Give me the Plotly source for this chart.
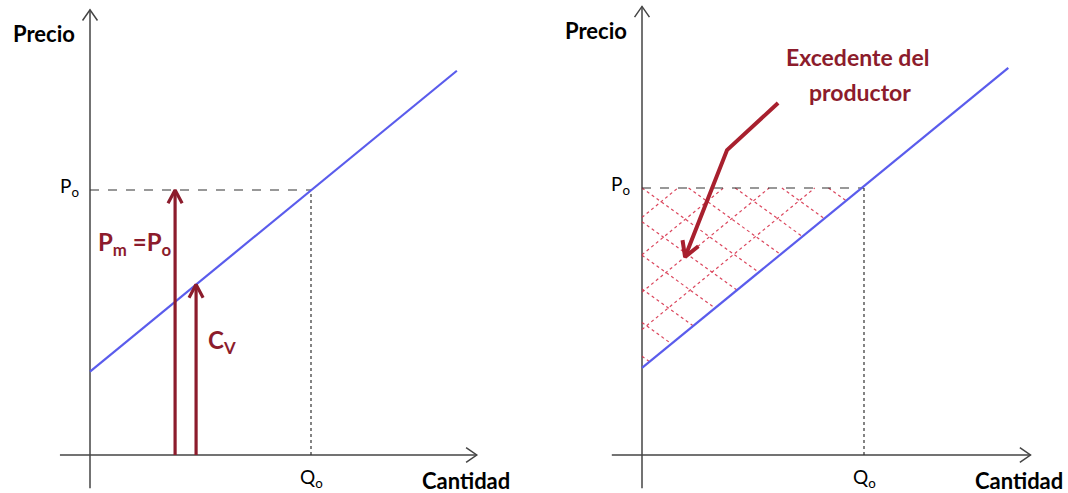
import numpy as np
import plotly.graph_objects as go

# ---------------- data (conceptual units) ----------------
P0 = 10.0          # equilibrium price
Q0 = 10.0          # equilibrium quantity
supply_left_q = [0.0, 16.6]
supply_left_p = [3.15, 14.5]
supply_right_q = [0.0, 16.5]
supply_right_p = [3.26, 14.5]

# left panel vertical arrows: Pm = Po and Cv
arrow_q = [3.85, 4.8]
arrow_top = [P0, 3.15 + (14.5 - 3.15) / 16.6 * 4.8]

# right panel pointer arrow (start, bend, tip)
pointer_q = [6.13, 3.83, 1.94]
pointer_p = [13.18, 11.42, 7.42]

# hatch families (right panel)
hatch_a_offsets = [4.7, 6.1, 7.5, 8.9]                 # parallel to supply
hatch_b_offsets = [3.7, 4.96, 6.22, 7.48, 8.74, 10.0, 11.26, 12.52, 13.78, 15.04]
hatch_b_slope = -0.6

# axis extents
x_axis_ext = [-1.36, 17.5]
y_axis_ext = [-1.25, 16.8]

# ---------------- styling ----------------
AX_COL = "#444444"
BLUE = "#5a5cec"
DARKRED = "#8c1c2c"
PTR_RED = "#a8202e"
HATCH = "rgba(215,50,75,0.9)"
FONT = "Lato"

# pixel scales (px per unit) per panel
UX = {"L": 22.1, "R": 22.2}
UY = {"L": 26.5, "R": 26.7}

fig = go.Figure()


def line(xs, ys, color, width, panel, dash="solid"):
    fig.add_trace(go.Scatter(
        x=xs, y=ys, mode="lines",
        line=dict(color=color, width=width, dash=dash),
        xaxis="x" if panel == "L" else "x2",
        yaxis="y" if panel == "L" else "y2",
        hoverinfo="skip", showlegend=False))


def chevron(tip, prev, panel, length, half_angle_deg):
    ux, uy = UX[panel], UY[panel]
    tx, ty = tip[0] * ux, tip[1] * uy
    px, py = prev[0] * ux, prev[1] * uy
    d = np.array([tx - px, ty - py])
    d = d / np.linalg.norm(d)
    back = -d
    xs, ys = [], []
    for sgn in (1, -1):
        a = np.deg2rad(half_angle_deg) * sgn
        rot = np.array([[np.cos(a), -np.sin(a)], [np.sin(a), np.cos(a)]])
        v = rot @ back * length
        xs.append((tx + v[0]) / ux)
        ys.append((ty + v[1]) / uy)
    return [xs[0], tip[0], xs[1]], [ys[0], tip[1], ys[1]]


def axes(panel):
    line(x_axis_ext, [0, 0], AX_COL, 1.5, panel)
    line([0, 0], y_axis_ext, AX_COL, 1.5, panel)
    cx, cy = chevron((x_axis_ext[1], 0), (0, 0), panel, 13, 35)
    line(cx, cy, AX_COL, 1.5, panel)
    cx, cy = chevron((0, y_axis_ext[1]), (0, 0), panel, 13, 35)
    line(cx, cy, AX_COL, 1.5, panel)


# ---------------- left panel ----------------
axes("L")
line([0, Q0], [P0, P0], "#333333", 1.2, "L", dash="dash")
line([Q0, Q0], [0, P0], "#333333", 1.2, "L", dash="dot")
line(supply_left_q, supply_left_p, BLUE, 2.2, "L")
for q, top in zip(arrow_q, arrow_top):
    line([q, q], [0, top], DARKRED, 3.2, "L")
    cx, cy = chevron((q, top), (q, 0), "L", 15, 28)
    line(cx, cy, DARKRED, 3.2, "L")

# ---------------- right panel ----------------
axes("R")
b_int = supply_right_p[0]
s_slope = (supply_right_p[1] - supply_right_p[0]) / (supply_right_q[1] - supply_right_q[0])


def clip(c, m):
    cons = [(1.0, 0.0), (-m, P0 - c), (m - s_slope, c - b_int)]
    lo, hi = -1e9, 1e9
    for a, k in cons:
        if abs(a) < 1e-12:
            if k < 0:
                return None
        elif a > 0:
            lo = max(lo, -k / a)
        else:
            hi = min(hi, -k / a)
    if hi - lo < 1e-6:
        return None
    return lo, hi


hx, hy = [], []
for c in hatch_a_offsets:
    r = clip(c, s_slope)
    if r:
        hx += [r[0], r[1], None]
        hy += [c + s_slope * r[0], c + s_slope * r[1], None]
for d in hatch_b_offsets:
    r = clip(d, hatch_b_slope)
    if r:
        hx += [r[0], r[1], None]
        hy += [d + hatch_b_slope * r[0], d + hatch_b_slope * r[1], None]
fig.add_trace(go.Scatter(x=hx, y=hy, mode="lines",
                         line=dict(color=HATCH, width=1.2, dash="dot"),
                         xaxis="x2", yaxis="y2", hoverinfo="skip", showlegend=False))

line([0, Q0], [P0, P0], "#333333", 1.2, "R", dash="dash")
line([Q0, Q0], [0, P0], "#333333", 1.2, "R", dash="dot")
line(supply_right_q, supply_right_p, BLUE, 2.2, "R")
line(pointer_q, pointer_p, PTR_RED, 4.0, "R")
cx, cy = chevron((pointer_q[2], pointer_p[2]), (pointer_q[1], pointer_p[1]), "R", 17, 30)
line(cx, cy, PTR_RED, 4.0, "R")

# ---------------- texts ----------------
ann = []


def txt(text, x, y, panel, size, color="black", bold=False, xanchor="center"):
    ann.append(dict(
        text=f"<b>{text}</b>" if bold else text,
        x=x, y=y, xref="x" if panel == "L" else "x2", yref="y" if panel == "L" else "y2",
        showarrow=False, xanchor=xanchor, yanchor="middle",
        font=dict(family=FONT, size=size, color=color)))


for p in ("L", "R"):
    txt("Precio", -0.6, 15.9, p, 22, bold=True, xanchor="right")
    txt("Cantidad", 17.0, -0.95, p, 22, bold=True)
    txt("Q<sub>o</sub>", Q0, -0.85, p, 19)
    txt("P<sub>o</sub>", -0.95, P0 + 0.1, p, 19)

txt("P<sub>m</sub> =P<sub>o</sub>", 2.05, 8.0, "L", 24, color=DARKRED, bold=True)
txt("C<sub>V</sub>", 5.95, 4.3, "L", 24, color=DARKRED, bold=True)
txt("Excedente del", 9.7, 14.9, "R", 23, color=DARKRED, bold=True)
txt("productor", 9.8, 13.6, "R", 23, color=DARKRED, bold=True)

fig.update_layout(
    width=1068, height=493, autosize=False,
    margin=dict(l=0, r=0, t=0, b=0),
    paper_bgcolor="white", plot_bgcolor="white",
    xaxis=dict(domain=[0, 0.5], range=[-90 / 22.1, 444 / 22.1], visible=False, fixedrange=True),
    yaxis=dict(domain=[0, 1], range=[-38 / 26.5, 455 / 26.5], visible=False, fixedrange=True),
    xaxis2=dict(domain=[0.5, 1], range=[-108 / 22.2, 426 / 22.2], visible=False, fixedrange=True),
    yaxis2=dict(domain=[0, 1], range=[-38 / 26.7, 455 / 26.7], visible=False, fixedrange=True,
                anchor="x2"),
    annotations=ann,
)

fig.write_html("out.html", config={"displayModeBar": False},
               post_script="document.body.style.margin='0';")
